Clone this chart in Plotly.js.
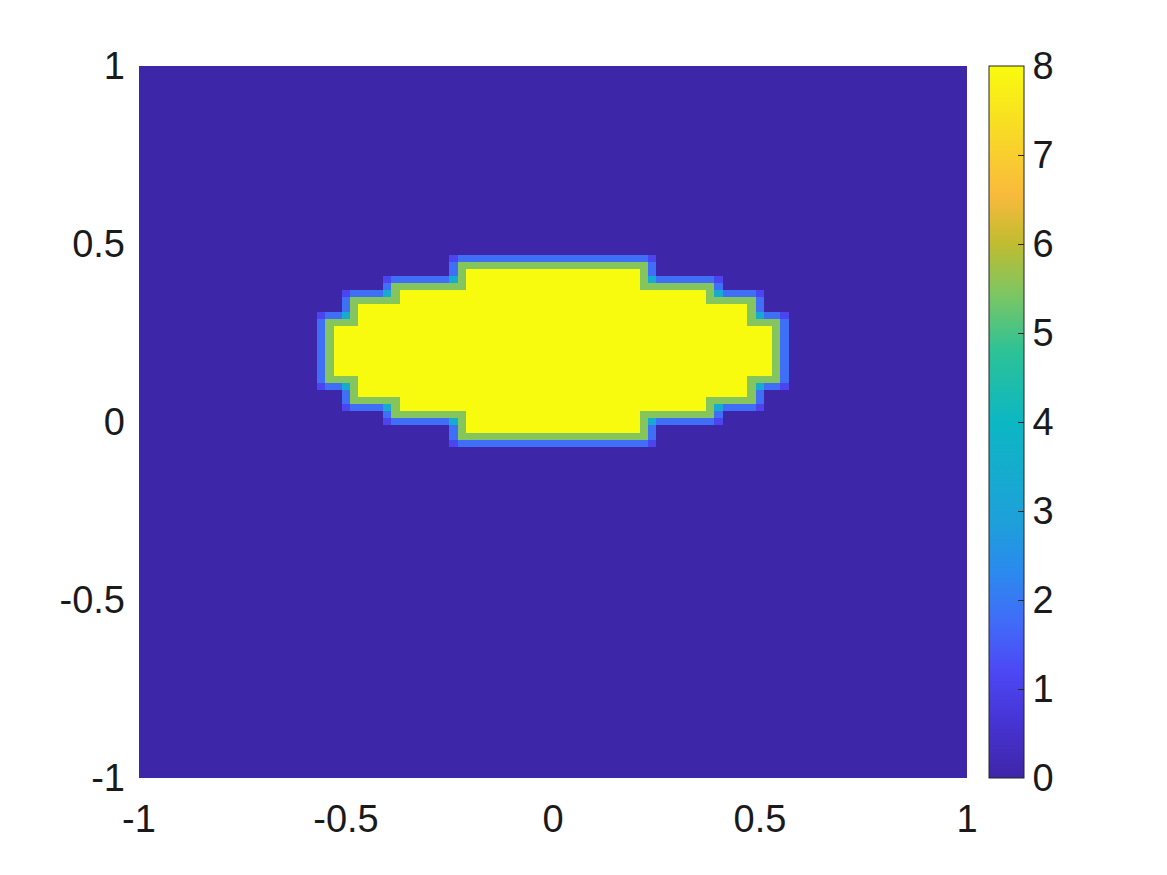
<!DOCTYPE html>
<html>
<head>
<meta charset="utf-8">
<script src="https://cdn.plot.ly/plotly-3.0.1.min.js"></script>
<style>
  html, body { margin: 0; padding: 0; background: #fff; }
  #plot { width: 1167px; height: 875px; }
</style>
</head>
<body>
<div id="plot"></div>
<script>
// grid nodes -1:0.02:1, one flat cell per node
const gridStep = 0.02;
const gridCount = 101;

// the stepped blob, read row by row: y band and x extent of the high region
const rowBottom = [-0.05, 0.01, 0.05, 0.11, 0.29, 0.35, 0.39];
const rowTop    = [ 0.01, 0.05, 0.11, 0.29, 0.35, 0.39, 0.45];
const rowLeft   = [-0.23, -0.39, -0.49, -0.55, -0.49, -0.39, -0.23];
const rowRight  = [ 0.23,  0.39,  0.49,  0.55,  0.49,  0.39,  0.23];
const insideValue = 8;
const edgeInnerValue = 5.5;    // green ring just inside the edge
const edgeOuterValue = 1.8;    // blue ring just outside the edge
const cornerInValue = 3.4;     // cyan in the inner corners of the steps
const cornerOutValue = 1.1;    // outer corners of the steps
const outsideValue = 0;

const cbTicks = [0, 1, 2, 3, 4, 5, 6, 7, 8];
const axisTicks = [-1, -0.5, 0, 0.5, 1];
const axisTickText = ['-1', '-0.5', '0', '0.5', '1'];

// parula-like colour scale
const parula = [
  [0.00, 'rgb(62,38,168)'],
  [0.08, 'rgb(70,52,212)'],
  [0.15, 'rgb(76,72,245)'],
  [0.22, 'rgb(65,108,248)'],
  [0.29, 'rgb(42,138,238)'],
  [0.36, 'rgb(30,160,218)'],
  [0.50, 'rgb(12,183,195)'],
  [0.60, 'rgb(45,194,150)'],
  [0.68, 'rgb(125,198,98)'],
  [0.75, 'rgb(192,188,48)'],
  [0.82, 'rgb(250,186,60)'],
  [0.90, 'rgb(248,215,40)'],
  [1.00, 'rgb(249,251,14)']
];

const xs = [];
const ys = [];
for (let i = 0; i < gridCount; i++) {
  xs.push(+(-1 + i * gridStep).toFixed(2));
  ys.push(+(-1 + i * gridStep).toFixed(2));
}

function inBlob(x, y) {
  for (let k = 0; k < rowBottom.length; k++) {
    if (y > rowBottom[k] && y < rowTop[k]) {
      return x > rowLeft[k] && x < rowRight[k];
    }
  }
  return false;
}

const mask = ys.map(y => xs.map(x => inBlob(x, y)));
const at = (j, i) => (j >= 0 && j < gridCount && i >= 0 && i < gridCount) ? mask[j][i] : false;

const z = mask.map((row, j) => row.map((inside, i) => {
  const side = [at(j - 1, i), at(j + 1, i), at(j, i - 1), at(j, i + 1)];
  const diag = [at(j - 1, i - 1), at(j - 1, i + 1), at(j + 1, i - 1), at(j + 1, i + 1)];
  if (inside) {
    if (side.every(v => v) && diag.every(v => v)) return insideValue;
    return edgeInnerValue;
  }
  const n = side.filter(v => v).length;
  if (n >= 2) return cornerInValue;
  if (n === 1) return edgeOuterValue;
  return diag.some(v => v) ? cornerOutValue : outsideValue;
}));

const font = { family: 'Liberation Sans, Arial, sans-serif', size: 38, color: '#1a1a1a' };

const trace = {
  type: 'heatmap',
  x: xs,
  y: ys,
  z: z,
  zmin: 0,
  zmax: 8,
  zsmooth: false,
  colorscale: parula,
  hoverinfo: 'skip',
  colorbar: {
    x: 1.0266,
    xanchor: 'left',
    y: 0.5,
    yanchor: 'middle',
    len: 1,
    lenmode: 'fraction',
    thickness: 35,
    thicknessmode: 'pixels',
    outlinewidth: 1,
    outlinecolor: '#262626',
    tickvals: cbTicks,
    ticks: 'inside',
    ticklen: 6,
    tickcolor: '#262626',
    tickfont: font,
    ticklabelstandoff: 12,
    xpad: 0,
    ypad: 0
  }
};

const layout = {
  width: 1167,
  height: 875,
  margin: { l: 139, r: 200, t: 66, b: 97 },
  paper_bgcolor: '#ffffff',
  plot_bgcolor: '#ffffff',
  showlegend: false,
  font: font,
  xaxis: {
    range: [-1, 1],
    tickvals: axisTicks,
    ticktext: axisTickText,
    showgrid: false,
    zeroline: false,
    ticks: '',
    ticklabelstandoff: 15,
    tickfont: font
  },
  yaxis: {
    range: [-1, 1],
    tickvals: axisTicks,
    ticktext: axisTickText,
    showgrid: false,
    zeroline: false,
    ticks: '',
    ticklabelstandoff: 13,
    tickfont: font
  }
};

Plotly.newPlot('plot', [trace], layout, { staticPlot: true, displayModeBar: false });
</script>
</body>
</html>
